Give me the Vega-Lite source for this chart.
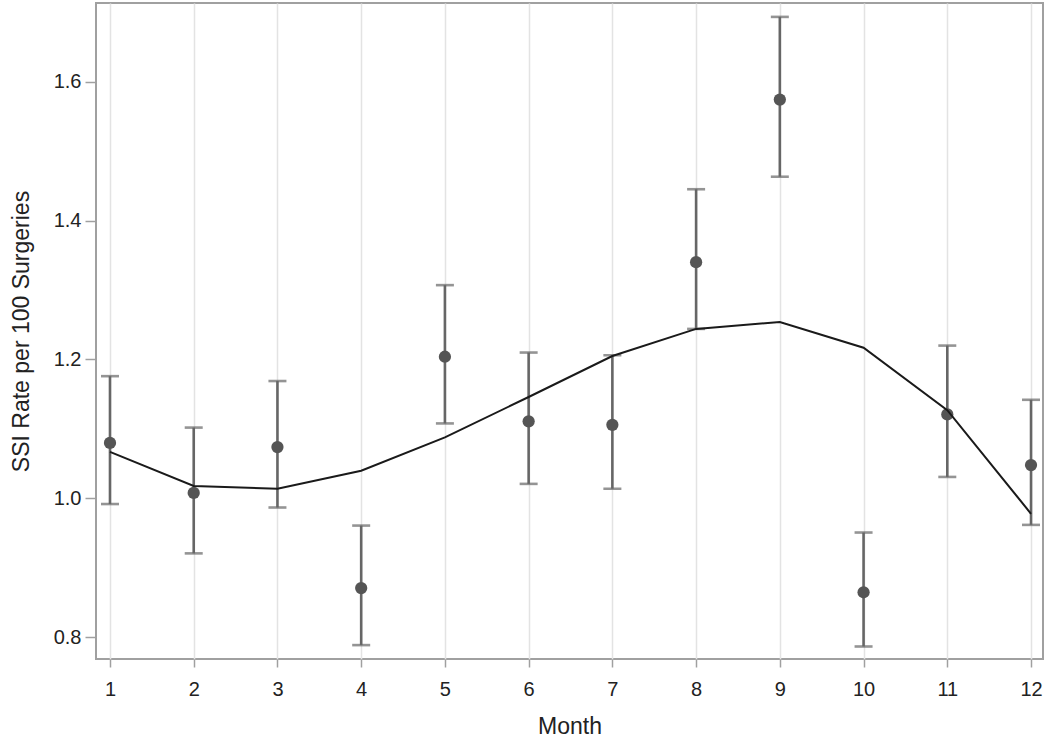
{
  "$schema": "https://vega.github.io/schema/vega-lite/v6.json",
  "width": 947,
  "height": 656,
  "autosize": {"type": "none"},
  "padding": {"left": 96, "top": 3, "right": 7, "bottom": 79},
  "background": "white",
  "config": {
    "font": "Liberation Sans",
    "view": {"stroke": "#a0a0a0", "strokeWidth": 2},
    "axis": {
      "labelFont": "Liberation Sans",
      "titleFont": "Liberation Sans",
      "labelColor": "#222",
      "titleColor": "#222",
      "titleFontWeight": "normal",
      "domain": false,
      "tickColor": "#a0a0a0",
      "tickWidth": 1.5
    }
  },
  "data": {
    "values": [
      {"month": 1, "rate": 1.080, "lower": 0.992, "upper": 1.176, "fit": 1.067},
      {"month": 2, "rate": 1.008, "lower": 0.921, "upper": 1.102, "fit": 1.018},
      {"month": 3, "rate": 1.074, "lower": 0.987, "upper": 1.169, "fit": 1.014},
      {"month": 4, "rate": 0.871, "lower": 0.789, "upper": 0.961, "fit": 1.040},
      {"month": 5, "rate": 1.204, "lower": 1.108, "upper": 1.307, "fit": 1.088},
      {"month": 6, "rate": 1.111, "lower": 1.021, "upper": 1.210, "fit": 1.146},
      {"month": 7, "rate": 1.106, "lower": 1.014, "upper": 1.206, "fit": 1.205},
      {"month": 8, "rate": 1.340, "lower": 1.244, "upper": 1.445, "fit": 1.244},
      {"month": 9, "rate": 1.574, "lower": 1.463, "upper": 1.693, "fit": 1.254},
      {"month": 10, "rate": 0.865, "lower": 0.787, "upper": 0.951, "fit": 1.217},
      {"month": 11, "rate": 1.121, "lower": 1.031, "upper": 1.220, "fit": 1.127},
      {"month": 12, "rate": 1.048, "lower": 0.962, "upper": 1.142, "fit": 0.978}
    ]
  },
  "encoding": {
    "x": {
      "field": "month",
      "type": "quantitative",
      "scale": {"domain": [0.833, 12.143], "nice": false, "zero": false},
      "axis": {
        "title": "Month",
        "values": [1, 2, 3, 4, 5, 6, 7, 8, 9, 10, 11, 12],
        "grid": true,
        "gridColor": "#e3e3e3",
        "gridWidth": 1.5,
        "labelFontSize": 20,
        "titleFontSize": 23,
        "tickSize": 8,
        "labelPadding": 12,
        "titlePadding": 16
      }
    }
  },
  "layer": [
    {
      "mark": {"type": "rule", "color": "#666", "strokeWidth": 2.6},
      "encoding": {
        "y": {
          "field": "lower",
          "type": "quantitative",
          "scale": {"domain": [0.769, 1.713], "nice": false, "zero": false},
          "axis": {
            "title": "SSI Rate per 100 Surgeries",
            "values": [0.8, 1.0, 1.2, 1.4, 1.6],
            "format": ".1f",
            "grid": false,
            "labelFontSize": 20,
            "titleFontSize": 23,
            "tickSize": 11,
            "labelPadding": 4,
            "titlePadding": 20
          }
        },
        "y2": {"field": "upper"}
      }
    },
    {
      "mark": {"type": "tick", "orient": "horizontal", "color": "#666", "thickness": 2.6, "size": 18},
      "encoding": {"y": {"field": "lower", "type": "quantitative"}}
    },
    {
      "mark": {"type": "tick", "orient": "horizontal", "color": "#666", "thickness": 2.6, "size": 18},
      "encoding": {"y": {"field": "upper", "type": "quantitative"}}
    },
    {
      "mark": {"type": "circle", "color": "#555", "opacity": 1, "size": 150},
      "encoding": {"y": {"field": "rate", "type": "quantitative"}}
    },
    {
      "mark": {"type": "line", "color": "#1a1a1a", "strokeWidth": 2},
      "encoding": {"y": {"field": "fit", "type": "quantitative"}}
    }
  ]
}
